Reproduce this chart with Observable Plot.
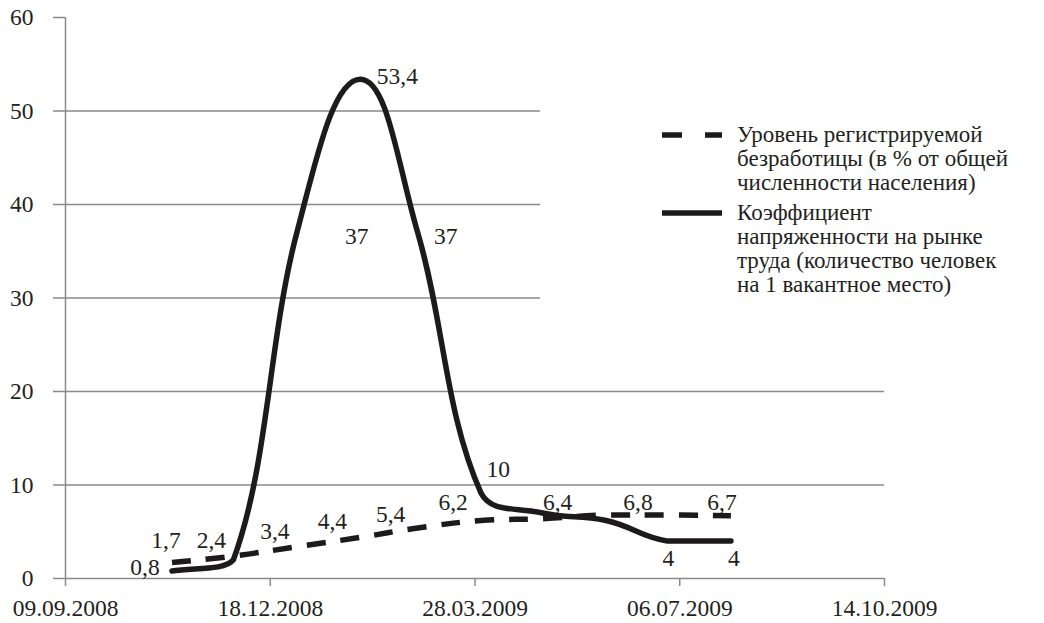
<!DOCTYPE html>
<html>
<head>
<meta charset="utf-8">
<script src="https://cdn.jsdelivr.net/npm/d3@7"></script>
<script src="https://cdn.jsdelivr.net/npm/@observablehq/plot@0.6"></script>
<style>
  html, body { margin: 0; padding: 0; background: #fff; }
  #wrap { position: relative; width: 1044px; height: 623px; overflow: hidden; }
  #wrap svg [aria-label^="x-axis"] line, #wrap svg [aria-label^="x-axis"] path,
  #wrap svg [aria-label^="y-axis"] line, #wrap svg [aria-label^="y-axis"] path { stroke: #8a8a8a; stroke-width: 1.5; }
  #legend { position: absolute; left: 540px; top: 100px; width: 504px; height: 205px; background: #fff;
    line-height: 24px; color: #231f20; white-space: nowrap; }
  .entry { position: absolute; left: 197px; }
  .sym { position: absolute; left: 120px; }
</style>
</head>
<body>
<div id="wrap"></div>
<script>
// ---- data ----
const dates = ["2008-10-31","2008-11-30","2008-12-31","2009-01-31","2009-02-28","2009-03-31","2009-04-30","2009-05-31","2009-06-30","2009-07-31"];
const unemployment = [1.7, 2.4, 3.4, 4.4, 5.4, 6.2, 6.4, 6.8, 6.8, 6.7];
const tension = [0.8, 2.0, 37, 53.4, 37, 9.1, 7.0, 6.2, 4, 4];
const unemploymentLabels = ["1,7","2,4","3,4","4,4","5,4","6,2","6,4","6,8",null,"6,7"];
const tensionLabels = ["0,8",null,"37","53,4","37","10",null,null,"4","4"];
const xTickDates = ["2008-09-09","2008-12-18","2009-03-28","2009-07-06","2009-10-14"];
const yTicks = [0, 10, 20, 30, 40, 50, 60];
const seriesNames = [
  "Уровень регистрируемой<br>безработицы (в % от общей<br>численности населения)",
  "Коэффициент<br>напряженности на рынке<br>труда (количество человек<br>на 1 вакантное место)"
];

// ---- label offsets (pixels, styling only) ----
const unemploymentOffsets = [[-6,-22],[-22,-16],[-22,-15],[-28,-16],[-27,-14],[-28,-18],[15,-16],[32,-12],null,[-9,-13]];
const tensionOffsets = [[-27,-4],null,[60,4],[37,-3],[28,4],[17,-24],null,null,[1,17],[3,17]];

const fontFamily = `"Liberation Serif", serif`;
const numSize = 23.5;
const legendSize = 23;
const SMOOTH = 0.45;

// ---- Excel-like smoothing: Bezier segments, tangents scaled by segment lengths,
//      control points kept inside each segment's box (no overshoot, no loops) ----
function ExcelSmooth(context) { this._context = context; }
ExcelSmooth.prototype = {
  areaStart() { this._line = 0; },
  areaEnd() { this._line = NaN; },
  lineStart() { this._x = []; this._y = []; },
  point(x, y) { this._x.push(+x); this._y.push(+y); },
  lineEnd() {
    const X = this._x, Y = this._y, n = X.length, c = this._context;
    if (!n) return;
    c.moveTo(X[0], Y[0]);
    if (n === 1) return;
    const d = i => Math.hypot(X[i + 1] - X[i], Y[i + 1] - Y[i]);
    const tan = i => {
      const a = Math.max(0, i - 1), b = Math.min(n - 1, i + 1);
      return [X[b] - X[a], Y[b] - Y[a]];
    };
    const weight = (i, seg) => {
      if (i === 0 || i === n - 1) return 1 / 3;
      const dp = d(i - 1), dn = d(i);
      return SMOOTH * (seg === "next" ? dn : dp) / (dp + dn);
    };
    for (let i = 0; i < n - 1; ++i) {
      const t0 = tan(i), t1 = tan(i + 1);
      const w0 = weight(i, "next"), w1 = weight(i + 1, "prev");
      let v0 = [t0[0] * w0, t0[1] * w0], v1 = [-t1[0] * w1, -t1[1] * w1];
      const span = X[i + 1] - X[i];
      const a = Math.abs(v0[0]), b = Math.abs(v1[0]);
      if (a + b > Math.abs(span) && a + b > 0) {
        const s = Math.abs(span) / (a + b);
        v0 = [v0[0] * s, v0[1] * s]; v1 = [v1[0] * s, v1[1] * s];
      }
      const lo = Math.min(Y[i], Y[i + 1]), hi = Math.max(Y[i], Y[i + 1]);
      const cl = y => Math.max(lo, Math.min(hi, y));
      c.bezierCurveTo(X[i] + v0[0], cl(Y[i] + v0[1]),
                      X[i + 1] + v1[0], cl(Y[i + 1] + v1[1]),
                      X[i + 1], Y[i + 1]);
    }
  }
};
const excelCurve = ctx => new ExcelSmooth(ctx);

const parse = d => new Date(d + "T00:00:00Z");
const rowsU = dates.map((d, i) => ({date: parse(d), value: unemployment[i], label: unemploymentLabels[i], off: unemploymentOffsets[i]}));
const rowsT = dates.map((d, i) => ({date: parse(d), value: tension[i], label: tensionLabels[i], off: tensionOffsets[i]}));
const xTicks = xTickDates.map(parse);
const ink = "#1c1a1a";
const textInk = "#231f20";

const labelMarks = [...rowsU, ...rowsT].filter(r => r.label).map(r =>
  Plot.text([r], {x: "date", y: "value", text: "label", dx: r.off[0], dy: r.off[1],
    fill: textInk, fontSize: numSize, textAnchor: "middle", lineAnchor: "middle"})
);

const chart = Plot.plot({
  width: 1044, height: 623,
  marginLeft: 65, marginRight: 160, marginTop: 17, marginBottom: 45,
  style: {fontFamily, fontSize: numSize + "px", color: textInk, background: "#fff", overflow: "visible"},
  x: {type: "utc", domain: [xTicks[0], xTicks[xTicks.length - 1]], ticks: xTicks,
      tickFormat: d3.utcFormat("%d.%m.%Y"), tickSize: 8, tickPadding: 13, label: null},
  y: {domain: [0, 60], ticks: yTicks, tickSize: 12, tickPadding: 20, label: null},
  marks: [
    Plot.ruleY(yTicks.filter(v => v > 0 && v < 60), {stroke: "#8a8a8a", strokeWidth: 1.5}),
    Plot.ruleY([0], {stroke: "#8a8a8a", strokeWidth: 1.5}),
    Plot.ruleX([xTicks[0]], {y1: 0, y2: 60, stroke: "#8a8a8a", strokeWidth: 1.5}),
    Plot.line(rowsU, {x: "date", y: "value", curve: excelCurve, stroke: ink, strokeWidth: 5.5,
      strokeDasharray: "19,15", strokeLinecap: "butt"}),
    Plot.line(rowsT, {x: "date", y: "value", curve: excelCurve, stroke: ink, strokeWidth: 5.5,
      strokeLinejoin: "round"}),
    ...labelMarks
  ]
});

const wrap = document.getElementById("wrap");
wrap.appendChild(chart);

// ---- legend ----
const legend = document.createElement("div");
legend.id = "legend";
legend.style.fontFamily = fontFamily;
legend.style.fontSize = legendSize + "px";
legend.innerHTML = `
  <svg class="sym" style="top:31px" width="64" height="8"><line x1="2" y1="4" x2="62" y2="4" stroke="${ink}" stroke-width="5.5" stroke-dasharray="20,23"/></svg>
  <div class="entry" style="top:23px">${seriesNames[0]}</div>
  <svg class="sym" style="top:109px" width="64" height="8"><line x1="2" y1="4" x2="62" y2="4" stroke="${ink}" stroke-width="5.5"/></svg>
  <div class="entry" style="top:101px">${seriesNames[1]}</div>`;
wrap.appendChild(legend);
</script>
</body>
</html>
